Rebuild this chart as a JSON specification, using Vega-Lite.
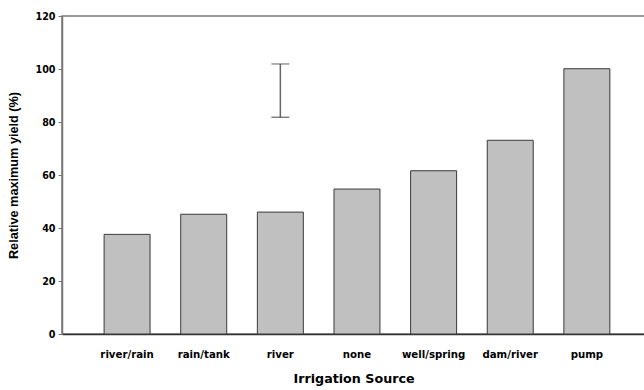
{
  "$schema": "https://vega.github.io/schema/vega-lite/v6.json",
  "autosize": {"type": "none"},
  "width": 583,
  "height": 318,
  "padding": {"left": 62, "top": 16, "right": 0, "bottom": 56},
  "background": "white",
  "config": {
    "view": {"stroke": "#777777", "strokeWidth": 1.5},
    "font": "DejaVu Sans"
  },
  "datasets": {
    "bars": [
      {"source": "river/rain", "yield": 37.6},
      {"source": "rain/tank", "yield": 45.2},
      {"source": "river", "yield": 46.0},
      {"source": "none", "yield": 54.7},
      {"source": "well/spring", "yield": 61.6},
      {"source": "dam/river", "yield": 73.1},
      {"source": "pump", "yield": 100.1}
    ],
    "err": [
      {"source": "river", "low": 81.8, "high": 101.9}
    ]
  },
  "layer": [
    {
      "data": {"name": "bars"},
      "mark": {"type": "bar", "fill": "#c0c0c0", "stroke": "#3a3a3a", "strokeWidth": 1},
      "encoding": {
        "x": {
          "field": "source", "type": "nominal", "sort": null,
          "scale": {"paddingInner": 0.4, "paddingOuter": 0.504, "align": 0.545},
          "axis": {
            "title": "Irrigation Source", "labelAngle": 0, "ticks": false,
            "labelPadding": 15, "labelFont": "DejaVu Sans", "labelFontWeight": "bold",
            "labelFontSize": 10.2, "labelColor": "#000000",
            "titleFont": "DejaVu Sans", "titleFontWeight": "bold", "titleFontSize": 12.7,
            "titleColor": "#000000", "titlePadding": 13,
            "domainColor": "#333333", "domainWidth": 1.5
          }
        },
        "y": {
          "field": "yield", "type": "quantitative",
          "scale": {"domain": [0, 120], "nice": false},
          "axis": {
            "title": "Relative maximum yield (%)", "values": [0, 20, 40, 60, 80, 100, 120],
            "grid": false, "tickSize": 4, "tickColor": "#777777", "tickWidth": 1,
            "labelPadding": 3, "labelFont": "DejaVu Sans", "labelFontWeight": "bold",
            "labelFontSize": 9.6, "labelColor": "#000000",
            "titleFont": "Liberation Sans", "titleFontWeight": "bold", "titleFontSize": 12.7,
            "titleColor": "#000000", "titlePadding": 14,
            "domainColor": "#777777", "domainWidth": 1.5
          }
        }
      }
    },
    {
      "data": {"name": "err"},
      "mark": {"type": "rule", "color": "#666666", "strokeWidth": 1.5},
      "encoding": {
        "x": {"field": "source", "type": "nominal", "sort": null},
        "y": {"field": "low", "type": "quantitative"},
        "y2": {"field": "high"}
      }
    },
    {
      "data": {"name": "err"},
      "mark": {"type": "tick", "orient": "horizontal", "size": 18, "thickness": 1.2, "color": "#222222"},
      "encoding": {
        "x": {"field": "source", "type": "nominal", "sort": null},
        "y": {"field": "low", "type": "quantitative"}
      }
    },
    {
      "data": {"name": "err"},
      "mark": {"type": "tick", "orient": "horizontal", "size": 18, "thickness": 1.2, "color": "#444444"},
      "encoding": {
        "x": {"field": "source", "type": "nominal", "sort": null},
        "y": {"field": "high", "type": "quantitative"}
      }
    }
  ]
}
